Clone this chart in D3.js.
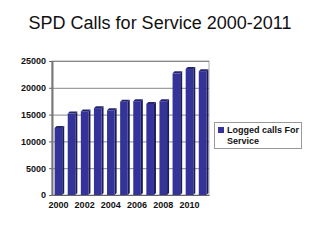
<!DOCTYPE html>
<html>
<head>
<meta charset="utf-8">
<script src="https://cdnjs.cloudflare.com/ajax/libs/d3/7.8.5/d3.min.js"></script>
<style>
  body { margin: 0; background: #fff; }
  text { font-family: "Liberation Sans", Arial, sans-serif; }
</style>
</head>
<body>
<div id="chart"></div>
<script>
var years = ['2000', '2001', '2002', '2003', '2004', '2005', '2006', '2007', '2008', '2009', '2010', '2011'];
var calls = [12500, 15200, 15600, 16200, 15800, 17400, 17500, 17000, 17500, 22700, 23500, 23100];
var yTicks = [0, 5000, 10000, 15000, 20000, 25000];
var seriesName = ['Logged calls For', 'Service'];

var margin = { top: 61, right: 111, bottom: 45, left: 52 };
var width = 320 - margin.left - margin.right;
var height = 240 - margin.top - margin.bottom;

var root = d3.select('#chart')
  .append('svg')
  .attr('width', 320)
  .attr('height', 240);

root.append('text')
  .attr('x', 160)
  .attr('y', 29)
  .attr('text-anchor', 'middle')
  .attr('font-size', 18)
  .attr('fill', '#111')
  .text('SPD Calls for Service 2000-2011');

var svg = root.append('g')
  .attr('transform', 'translate(' + margin.left + ',' + margin.top + ')');

var x = d3.scaleBand()
  .domain(years)
  .range([0, width])
  .paddingInner(0.42)
  .paddingOuter(0.2);

var y = d3.scaleLinear()
  .domain([0, 25000])
  .range([height, 0]);

// plot frame
svg.append('rect')
  .attr('x', 0).attr('y', 0)
  .attr('width', width).attr('height', height)
  .attr('fill', '#fff')
  .attr('stroke', '#aaa')
  .attr('stroke-width', 1);

// gridlines
svg.selectAll('.grid')
  .data(yTicks)
  .enter().append('line')
  .attr('class', 'grid')
  .attr('x1', 0).attr('x2', width)
  .attr('y1', function(d) { return y(d) + 0.5; })
  .attr('y2', function(d) { return y(d) + 0.5; })
  .attr('stroke', '#888')
  .attr('stroke-width', 1);

// left wall
svg.append('line')
  .attr('x1', 0.5).attr('x2', 0.5)
  .attr('y1', 0).attr('y2', height)
  .attr('stroke', '#777')
  .attr('stroke-width', 2);

var depth = 2;
var bw = x.bandwidth();

// bar side face
svg.selectAll('.side')
  .data(calls)
  .enter().append('polygon')
  .attr('class', 'side')
  .attr('points', function(d, i) {
    var x0 = x(years[i]) + bw, y0 = y(d);
    return [[x0, y0], [x0 + depth, y0 - depth], [x0 + depth, height - depth], [x0, height]].join(' ');
  })
  .attr('fill', '#1c1c5a');

// bar top face
svg.selectAll('.top')
  .data(calls)
  .enter().append('polygon')
  .attr('class', 'top')
  .attr('points', function(d, i) {
    var x0 = x(years[i]), y0 = y(d);
    return [[x0, y0], [x0 + depth, y0 - depth], [x0 + bw + depth, y0 - depth], [x0 + bw, y0]].join(' ');
  })
  .attr('fill', '#26266e');

svg.selectAll('.bar')
  .data(calls)
  .enter().append('rect')
  .attr('class', 'bar')
  .attr('x', function(d, i) { return x(years[i]); })
  .attr('y', function(d) { return y(d); })
  .attr('width', bw)
  .attr('height', function(d) { return height - y(d); })
  .attr('fill', '#333399');

// axes
var yAxis = svg.append('g')
  .call(d3.axisLeft(y).tickValues(yTicks).tickFormat(d3.format('d')).tickSize(3));
yAxis.select('.domain').remove();
yAxis.selectAll('line').attr('stroke', '#666');
yAxis.selectAll('text')
  .attr('font-size', 9)
  .attr('font-weight', 'bold')
  .attr('fill', '#111')
  .attr('font-family', '"Liberation Sans", Arial, sans-serif');

var xAxis = svg.append('g')
  .attr('transform', 'translate(0,' + height + ')')
  .call(d3.axisBottom(x)
    .tickFormat(function(d, i) { return i % 2 === 0 ? d : ''; })
    .tickSize(0)
    .tickPadding(7));
xAxis.select('.domain').attr('stroke', '#666');
xAxis.selectAll('text')
  .attr('font-size', 9)
  .attr('font-weight', 'bold')
  .attr('fill', '#111')
  .attr('font-family', '"Liberation Sans", Arial, sans-serif');

// legend
var legend = root.append('g')
  .attr('transform', 'translate(214,122)');

legend.append('rect')
  .attr('x', 0.5).attr('y', 0.5)
  .attr('width', 87).attr('height', 26)
  .attr('fill', '#fff')
  .attr('stroke', '#999');

legend.append('rect')
  .attr('x', 4).attr('y', 5)
  .attr('width', 6).attr('height', 6)
  .attr('fill', '#333399');

legend.selectAll('.leg-text')
  .data(seriesName)
  .enter().append('text')
  .attr('class', 'leg-text')
  .attr('x', 13)
  .attr('y', function(d, i) { return 11 + i * 11; })
  .attr('font-size', 9)
  .attr('font-weight', 'bold')
  .attr('fill', '#111')
  .text(function(d) { return d; });
</script>
</body>
</html>
